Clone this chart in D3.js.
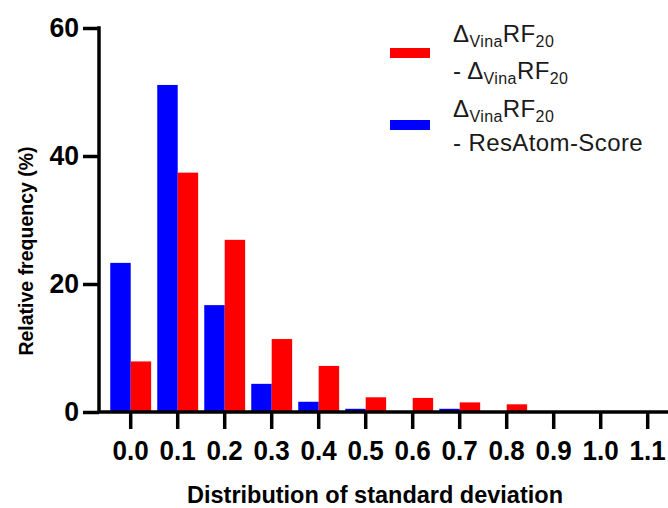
<!DOCTYPE html>
<html>
<head>
<meta charset="utf-8">
<script src="https://cdn.jsdelivr.net/npm/d3@7"></script>
<style>
  body { margin: 0; background: #fff; }
  text { font-family: "Liberation Sans", Arial, sans-serif; }
</style>
</head>
<body>
<script>
// bins of the histogram and the two series (relative frequency, %)
let bins = ['0.0','0.1','0.2','0.3','0.4','0.5','0.6','0.7','0.8','0.9','1.0','1.1']
let resAtom = [23.3, 51.1, 16.7, 4.4, 1.6, 0.5, 0, 0.5, 0.1, 0.1, 0, 0]   // blue
let vinaRF = [7.9, 37.4, 26.9, 11.4, 7.2, 2.3, 2.2, 1.5, 1.2, 0, 0, 0.15]  // red
let yTicks = [0, 20, 40, 60]
let seriesKeys = ['resAtom', 'vinaRF']
let seriesColors = ['#0000ff', '#ff0000']

let data = bins.map((b, i) => ({bin: b, resAtom: resAtom[i], vinaRF: vinaRF[i]}))

let width = 668, height = 508
let margin = {top: 28, bottom: 96, left: 99, right: -3}

let svg = d3.select('body')
            .append('svg')
            .attr('width', width)
            .attr('height', height)

let yScale = d3.scaleLinear()
              .domain([0, 60])
              .range([height - margin.bottom, margin.top])

// step 47px, first bin centred at ~130.7
let xScale = d3.scaleBand()
            .domain(bins)
            .range([107.2, 671.2])
            .paddingInner(0.13)
            .paddingOuter(0.065)

let xSub = d3.scaleBand()
            .domain(seriesKeys)
            .range([0, xScale.bandwidth()])

let color = d3.scaleOrdinal().domain(seriesKeys).range(seriesColors)

// bars
svg.append('g')
   .selectAll('g')
   .data(data)
   .enter()
   .append('g')
   .attr('transform', d => `translate(${xScale(d.bin)},0)`)
   .selectAll('rect')
   .data(d => seriesKeys.map(k => ({key: k, value: d[k]})))
   .enter()
   .append('rect')
   .attr('x', d => xSub(d.key))
   .attr('width', xSub.bandwidth())
   .attr('y', d => yScale(d.value))
   .attr('height', d => yScale(0) - yScale(d.value))
   .attr('fill', d => color(d.key))

// y axis
let yAxis = svg.append('g')
            .attr('transform', `translate(${margin.left},0)`)
            .call(d3.axisLeft(yScale).tickValues(yTicks).tickSize(16).tickPadding(5).tickSizeOuter(0))
yAxis.select('.domain').attr('stroke-width', 3.5).attr('d', `M0,${margin.top - 1.75}V${yScale(0)}`)
yAxis.selectAll('.tick line').attr('stroke-width', 3.5)
yAxis.selectAll('.tick text')
     .style('font-size', '28px').style('font-weight', 'bold')
     .attr('transform', 'scale(0.95,1)')
     .attr('fill', '#000')

// x axis
let xAxis = svg.append('g')
            .attr('transform', `translate(0,${yScale(0)})`)
            .call(d3.axisBottom(xScale).tickSize(17).tickPadding(11).tickSizeOuter(0))
xAxis.select('.domain').attr('stroke-width', 3.5).attr('d', `M${margin.left},0H${width}`)
xAxis.selectAll('.tick line').attr('stroke-width', 3.5)
xAxis.selectAll('.tick text')
     .style('font-size', '28px').style('font-weight', 'bold')
     .attr('transform', 'scale(0.93,1)')
     .attr('fill', '#000')

// axis titles
svg.append('text')
   .attr('x', 375)
   .attr('y', 503)
   .text('Distribution of standard deviation')
   .style('text-anchor', 'middle')
   .style('font-size', '23.5px')
   .style('font-weight', 'bold')

svg.append('text')
   .attr('transform', 'translate(33,251) rotate(-90)')
   .text('Relative frequency (%)')
   .style('text-anchor', 'middle')
   .style('font-size', '19.5px')
   .style('font-weight', 'bold')

// legend
let legendItems = [
  {key: 'vinaRF', y: 48, lines: [[['Δ', 0], ['Vina', 1], ['RF', 0], ['20', 1]], [['- Δ', 0], ['Vina', 1], ['RF', 0], ['20', 1]]], base: [42, 79]},
  {key: 'resAtom', y: 120, lines: [[['Δ', 0], ['Vina', 1], ['RF', 0], ['20', 1]], [['- ResAtom-Score', 0]]], base: [117, 151]}
]

let legend = svg.append('g')
legendItems.forEach(item => {
  legend.append('rect')
        .attr('x', 390).attr('y', item.y)
        .attr('width', 40).attr('height', 10)
        .attr('fill', color(item.key))
  item.lines.forEach((parts, li) => {
    let t = legend.append('text')
                  .attr('x', 453).attr('y', item.base[li])
                  .attr('fill', '#1a1a1a')
                  .style('font-size', '24px')
                  .style('letter-spacing', '0.4px')
    parts.forEach(p => {
      t.append('tspan')
       .text(p[0])
       .style('font-size', p[1] ? '16px' : '24px')
       .attr('y', item.base[li] + (p[1] ? 5 : 0))
    })
  })
})
</script>
</body>
</html>
